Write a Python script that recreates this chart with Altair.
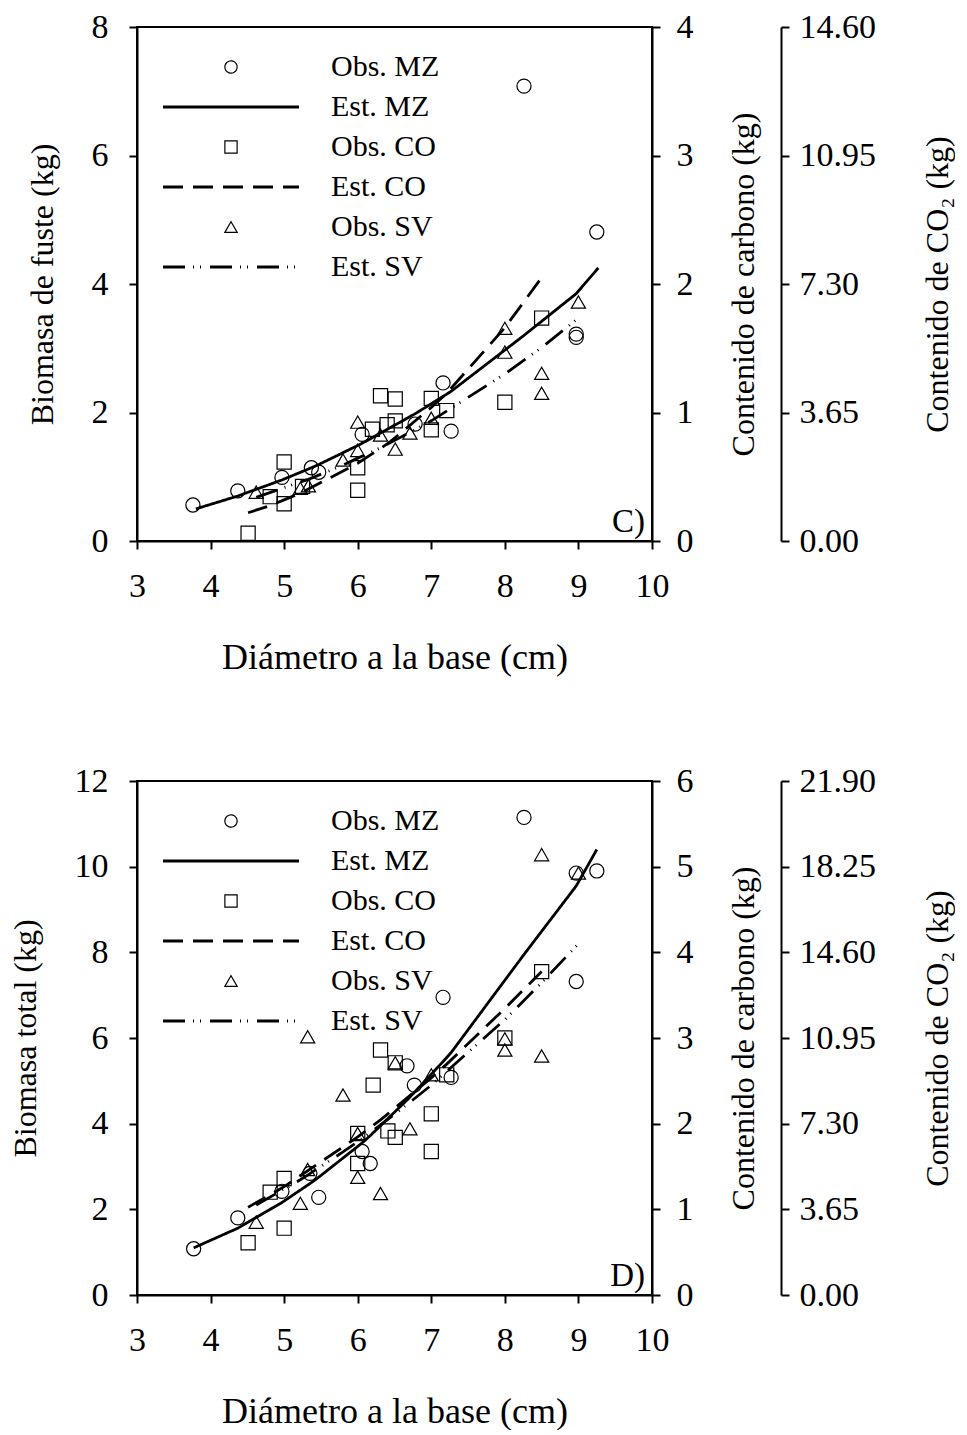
import altair as alt
import pandas as pd

SERIES = ["Obs. MZ", "Est. MZ", "Obs. CO", "Est. CO", "Obs. SV", "Est. SV"]

# ---------------- Panel C: Biomasa de fuste ----------------
c_obs_mz_d = [3.76, 4.37, 4.97, 5.37, 5.47, 6.06, 6.78, 7.16, 7.27, 8.26, 8.97, 8.97, 9.25]
c_obs_mz_b = [0.56, 0.78, 0.99, 1.14, 1.07, 1.66, 1.82, 2.46, 1.71, 7.08, 3.22, 3.17, 4.81]
c_obs_co_d = [4.51, 4.81, 5.0, 5.0, 5.25, 6.0, 6.0, 6.2, 6.31, 6.4, 6.51, 6.51, 7.0, 7.0, 7.21, 8.0, 8.5]
c_obs_co_b = [0.12, 0.69, 1.23, 0.58, 0.85, 1.14, 0.79, 1.74, 2.26, 1.81, 2.21, 1.87, 2.22, 1.73, 2.03, 2.16, 3.47]
c_obs_sv_d = [4.62, 5.22, 5.33, 5.8, 6.0, 6.0, 6.31, 6.51, 6.71, 7.0, 8.0, 8.0, 8.5, 8.5, 9.0]
c_obs_sv_b = [0.76, 0.82, 0.86, 1.26, 1.85, 1.41, 1.65, 1.43, 1.68, 1.91, 3.31, 2.94, 2.61, 2.30, 3.72]

c_est_mz_d = [3.8, 4.37, 4.97, 5.37, 5.47, 6.06, 6.78, 7.16, 7.27, 8.26, 8.97, 9.27]
c_est_mz_b = [0.50, 0.70, 0.95, 1.14, 1.19, 1.52, 1.98, 2.25, 2.33, 3.20, 3.85, 4.25]
c_est_co_d = [4.51, 4.81, 5.0, 5.25, 6.0, 6.2, 6.31, 6.4, 6.51, 7.0, 7.21, 8.0, 8.5]
c_est_co_b = [0.44, 0.55, 0.64, 0.76, 1.21, 1.36, 1.44, 1.51, 1.61, 2.08, 2.30, 3.32, 4.10]
c_est_sv_d = [4.62, 5.22, 5.33, 5.8, 6.0, 6.31, 6.51, 6.71, 7.0, 8.0, 8.5, 9.0]
c_est_sv_b = [0.68, 0.92, 0.96, 1.18, 1.29, 1.45, 1.57, 1.69, 1.87, 2.60, 3.01, 3.47]

c_biomass_ticks = [0, 2, 4, 6, 8]
c_carbon_ticks = [0, 1, 2, 3, 4]
c_co2_ticks = [0.0, 3.65, 7.30, 10.95, 14.60]

# ---------------- Panel D: Biomasa total ----------------
d_obs_mz_d = [3.77, 4.37, 4.97, 5.35, 5.47, 6.06, 6.17, 6.67, 6.77, 7.16, 7.27, 8.26, 8.97, 8.97, 9.25]
d_obs_mz_b = [1.08, 1.80, 2.42, 2.84, 2.28, 3.35, 3.07, 5.35, 4.90, 6.95, 5.08, 11.15, 9.85, 7.32, 9.90]
d_obs_co_d = [4.51, 4.81, 5.0, 5.0, 6.0, 6.0, 6.21, 6.31, 6.41, 6.51, 6.51, 7.0, 7.0, 7.21, 8.0, 8.5]
d_obs_co_b = [1.22, 2.40, 2.72, 1.56, 3.77, 3.07, 4.90, 5.72, 3.83, 5.42, 3.68, 4.23, 3.35, 5.14, 6.00, 7.55]
d_obs_sv_d = [4.62, 5.22, 5.32, 5.32, 5.8, 6.0, 6.0, 6.31, 6.51, 6.71, 7.0, 8.0, 8.0, 8.5, 8.5, 9.0]
d_obs_sv_b = [1.70, 2.14, 2.93, 6.03, 4.67, 3.77, 2.75, 2.37, 5.42, 3.88, 5.14, 5.98, 5.72, 10.28, 5.58, 9.85]

d_est_mz_d = [3.77, 4.37, 4.97, 5.35, 5.47, 6.06, 6.17, 6.67, 6.77, 7.16, 7.27, 8.26, 8.97, 9.25]
d_est_mz_b = [1.10, 1.56, 2.16, 2.60, 2.75, 3.55, 3.72, 4.55, 4.73, 5.45, 5.66, 7.95, 9.55, 10.40]
d_est_co_d = [4.51, 4.81, 5.0, 6.0, 6.21, 6.31, 6.41, 6.51, 7.0, 7.21, 8.0, 8.5]
d_est_co_b = [2.05, 2.34, 2.53, 3.69, 3.96, 4.09, 4.23, 4.37, 5.07, 5.39, 6.69, 7.55]
d_est_sv_d = [4.62, 5.22, 5.32, 5.8, 6.0, 6.31, 6.51, 6.71, 7.0, 8.0, 8.5, 9.0]
d_est_sv_b = [2.10, 2.69, 2.80, 3.34, 3.58, 3.97, 4.23, 4.50, 4.90, 6.43, 7.29, 8.20]

d_biomass_ticks = [0, 2, 4, 6, 8, 10, 12]
d_carbon_ticks = [0, 1, 2, 3, 4, 5, 6]
d_co2_ticks = [0.0, 3.65, 7.30, 10.95, 14.60, 18.25, 21.90]

x_ticks = [3, 4, 5, 6, 7, 8, 9, 10]

FONT = "Liberation Serif"
LINE_PATH = "M-11.1,0H11.1"
SHAPES = ["circle", LINE_PATH, "square", LINE_PATH, "triangle-up", LINE_PATH]
DASHES = [[1, 0], [1, 0], [1, 0], [20, 10], [1, 0], [22, 8, 1, 6, 1, 9]]
WIDTHS = [1.2, 2.8, 1.2, 2.8, 1.2, 2.8]

W, H = 515, 514


def long_table(groups):
    rows = []
    for name, ds, bs in groups:
        for d, b in zip(ds, bs):
            rows.append({"D": d, "B": b, "S": name})
    return pd.DataFrame(rows)


def panel(obs, est, b_ticks, ytitle, carbon_ticks, co2_ticks, tag):
    legend = alt.Legend(title=None, orient="none", legendX=79, legendY=25)
    x = alt.X("D:Q", scale=alt.Scale(domain=[3, 10], nice=False, zero=False),
              axis=alt.Axis(values=x_ticks, title="Diámetro a la base (cm)",
                            labelFlush=False, labelPadding=20, titlePadding=37,
                            titleFontSize=36))
    y = alt.Y("B:Q", scale=alt.Scale(domain=[0, b_ticks[-1]], nice=False),
              axis=alt.Axis(orient="left", values=b_ticks, title=ytitle,
                            labelPadding=21, titlePadding=32))
    shape = alt.Shape("S:N", scale=alt.Scale(domain=SERIES, range=SHAPES), legend=legend)
    sw = alt.StrokeWidth("S:N", scale=alt.Scale(type="ordinal", domain=SERIES, range=WIDTHS),
                         legend=legend)
    dash = alt.StrokeDash("S:N", scale=alt.Scale(domain=SERIES, range=DASHES), legend=legend)

    pts = alt.Chart(obs).mark_point(filled=False, color="black", size=200, opacity=1).encode(
        x=x, y=y, shape=shape, strokeWidth=sw)
    lines = alt.Chart(est).mark_line(color="black").encode(
        x=x, y=y, strokeDash=dash, strokeWidth=sw, detail="S:N")
    label = alt.Chart(pd.DataFrame({"t": [tag]})).mark_text(
        font=FONT, fontSize=33, align="right", baseline="middle", color="black"
    ).encode(text="t:N", x=alt.value(W - 7), y=alt.value(H - 19))

    carbon = alt.Chart(pd.DataFrame({"C": carbon_ticks})).mark_point(opacity=0).encode(
        y=alt.Y("C:Q", scale=alt.Scale(domain=[0, carbon_ticks[-1]], nice=False),
                axis=alt.Axis(orient="right", values=carbon_ticks,
                              title="Contenido de carbono (kg)", titleAngle=270,
                              titleBaseline="top", labelPadding=16, titlePadding=35)))
    co2 = alt.Chart(pd.DataFrame({"Q": co2_ticks})).mark_point(opacity=0).encode(
        y=alt.Y("Q:Q", scale=alt.Scale(domain=[0, co2_ticks[-1]], nice=False),
                axis=alt.Axis(orient="right", offset=129, values=co2_ticks, format=".2f",
                              title="Contenido de CO₂ (kg)", titleAngle=270,
                              titleBaseline="top", labelPadding=10, titlePadding=47)))

    return alt.layer(alt.layer(pts, lines, label), carbon, co2).resolve_scale(
        y="independent").properties(width=W, height=H)


obs_c = long_table([("Obs. MZ", c_obs_mz_d, c_obs_mz_b), ("Obs. CO", c_obs_co_d, c_obs_co_b),
                    ("Obs. SV", c_obs_sv_d, c_obs_sv_b)])
est_c = long_table([("Est. MZ", c_est_mz_d, c_est_mz_b), ("Est. CO", c_est_co_d, c_est_co_b),
                    ("Est. SV", c_est_sv_d, c_est_sv_b)])
obs_d = long_table([("Obs. MZ", d_obs_mz_d, d_obs_mz_b), ("Obs. CO", d_obs_co_d, d_obs_co_b),
                    ("Obs. SV", d_obs_sv_d, d_obs_sv_b)])
est_d = long_table([("Est. MZ", d_est_mz_d, d_est_mz_b), ("Est. CO", d_est_co_d, d_est_co_b),
                    ("Est. SV", d_est_sv_d, d_est_sv_b)])

top = panel(obs_c, est_c, c_biomass_ticks, "Biomasa de fuste (kg)", c_carbon_ticks, c_co2_ticks, "C)")
bottom = panel(obs_d, est_d, d_biomass_ticks, "Biomasa total (kg)", d_carbon_ticks, d_co2_ticks, "D)")

chart = alt.vconcat(top, bottom, spacing=240, bounds="flush").resolve_scale(
    shape="independent", strokeDash="independent", strokeWidth="independent"
).resolve_legend(
    shape="independent", strokeDash="independent", strokeWidth="independent"
).properties(
    padding={"left": 0, "top": 1, "right": 0, "bottom": 0}, background="white"
).configure_axis(
    labelFont=FONT, titleFont=FONT, labelFontSize=34, titleFontSize=32,
    titleFontWeight="normal", labelColor="black", titleColor="black",
    domainColor="black", tickColor="black", domainWidth=2, tickWidth=2, tickSize=8,
    grid=False, labelFlush=False, labelOverlap=False
).configure_view(
    stroke="black", strokeWidth=2
).configure_legend(
    labelFont=FONT, labelFontSize=30, labelColor="black", symbolSize=150,
    labelOffset=85, rowPadding=10, padding=0, symbolStrokeColor="black",
    symbolFillColor="transparent"
)

chart.save("out.html", embed_options={"renderer": "svg", "actions": False})
